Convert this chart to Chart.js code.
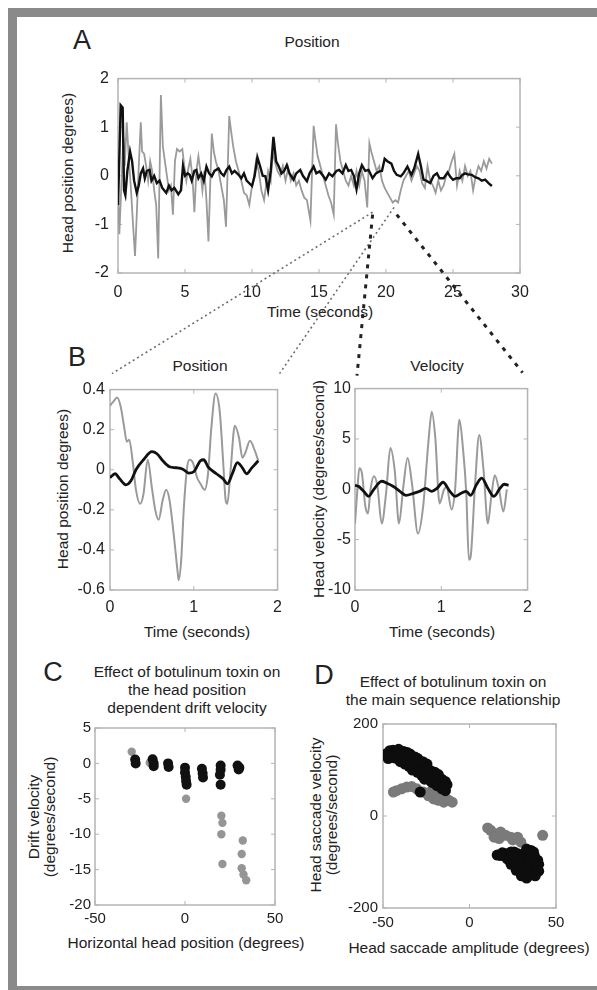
<!DOCTYPE html>
<html><head><meta charset="utf-8">
<script src="https://cdn.jsdelivr.net/npm/chart.js@4"></script>
<style>
html,body{margin:0;padding:0;background:#fff;width:597px;height:990px;overflow:hidden;font-family:"Liberation Sans",Arial,sans-serif;color:#222}
canvas{position:absolute}
.frame{position:absolute;left:8px;top:8px;width:589px;height:982px;border-top:9px solid #8a8a8a;border-left:9px solid #8a8a8a;border-bottom:4px solid #8a8a8a;box-sizing:border-box}
.t{position:absolute;font-size:15.5px;white-space:nowrap;transform:translate(-50%,-50%);text-align:center;line-height:18px}
.r{position:absolute;font-size:15.5px;white-space:nowrap;transform:translate(-50%,-50%) rotate(-90deg);text-align:center;line-height:15.5px}
.L{position:absolute;font-size:27px;transform:translate(-50%,-50%);line-height:1}
</style>
</head><body>
<div class="frame"></div>
<div class="L" style="left:82px;top:40px">A</div>
<div class="L" style="left:77px;top:357px">B</div>
<div class="L" style="left:53px;top:672px">C</div>
<div class="L" style="left:324px;top:675px">D</div>
<div class="t" style="left:312px;top:42px">Position</div>
<div class="t" style="left:200px;top:366px">Position</div>
<div class="t" style="left:437px;top:366px">Velocity</div>
<div class="t" style="left:187px;top:690px">Effect of botulinum toxin on<br>the head position<br>dependent drift velocity</div>
<div class="t" style="left:453px;top:691px">Effect of botulinum toxin on<br>the main sequence relationship</div>
<!-- axis titles -->
<div class="t" style="left:320px;top:312px">Time (seconds)</div>
<div class="r" style="left:68px;top:173px">Head position degrees)</div>
<div class="t" style="left:197px;top:632px">Time (seconds)</div>
<div class="r" style="left:63px;top:489px">Head position degrees)</div>
<div class="t" style="left:442px;top:632px">Time (seconds)</div>
<div class="r" style="left:319px;top:489px">Head velocity (degrees/second)</div>
<div class="t" style="left:186px;top:943px">Horizontal head position (degrees)</div>
<div class="r" style="left:41px;top:817px">Drift velocity<br>(degrees/second)</div>
<div class="t" style="left:469px;top:948px">Head saccade amplitude (degrees)</div>
<div class="r" style="left:323px;top:815px">Head saccade velocity<br>(degrees/second)</div>
<script>
// ---------- DATA ----------
const aXTicks=[0,5,10,15,20,25,30];
const aYTicks=[-2,-1,0,1,2];
const aGray=[[0,-0.3],[0.1,-1.2],[0.25,-0.2],[0.4,0.8],[0.5,0.2],[0.65,1.1],[0.8,0.4],[0.95,-0.2],[1.1,-0.9],[1.27,-1.65],[1.4,-0.8],[1.55,0.2],[1.7,1.1],[1.8,0.5],[1.95,0.45],[2.1,0.2],[2.25,-0.1],[2.4,0.3],[2.55,0.1],[2.7,-0.3],[2.85,-0.6],[3.0,-1.7],[3.2,1.66],[3.35,0.6],[3.5,0.3],[3.65,0.0],[3.8,-0.3],[3.95,-0.2],[4.1,-0.8],[4.25,0.3],[4.4,0.55],[4.6,0.5],[4.8,0.55],[4.95,0.2],[5.1,-0.1],[5.25,0.15],[5.4,0.35],[5.55,0.0],[5.7,-0.75],[5.85,0.1],[6.0,0.4],[6.15,0.1],[6.3,-0.3],[6.45,0.1],[6.6,-0.5],[6.75,-1.35],[7.0,0.87],[7.15,0.5],[7.3,0.3],[7.5,0.1],[7.7,-0.2],[7.9,-0.5],[8.06,-1.05],[8.3,1.23],[8.45,0.9],[8.6,0.6],[8.8,0.3],[9.0,0.1],[9.2,-0.1],[9.4,-0.35],[9.6,-0.4],[9.8,-0.6],[9.95,-0.3],[10.1,-0.1],[10.3,0.3],[10.5,0.1],[10.7,-0.3],[10.9,-0.5],[11.05,-0.2],[11.2,0.1],[11.4,-0.1],[11.55,0.5],[11.7,0.3],[11.9,0.1],[12.1,0.0],[12.3,0.2],[12.5,-0.1],[12.7,0.15],[12.9,-0.1],[13.1,0.05],[13.3,-0.2],[13.5,-0.1],[13.7,-0.3],[13.9,-0.45],[14.1,-0.5],[14.36,-0.92],[14.6,1.03],[14.75,0.7],[14.9,0.4],[15.1,0.2],[15.3,0.0],[15.5,-0.2],[15.7,-0.4],[15.9,-0.55],[16.1,-0.8],[16.27,1.06],[16.4,0.7],[16.6,0.3],[16.8,0.1],[17.0,-0.1],[17.2,-0.2],[17.4,0.0],[17.6,-0.2],[17.8,0.1],[18.0,-0.2],[18.2,0.1],[18.4,-0.1],[18.6,-0.65],[18.76,0.67],[18.9,0.5],[19.1,0.3],[19.3,0.1],[19.5,0.2],[19.7,-0.1],[19.9,-0.25],[20.1,-0.35],[20.3,-0.45],[20.5,-0.55],[20.7,-0.5],[20.9,-0.55],[21.1,-0.3],[21.3,-0.1],[21.5,0.0],[21.7,0.1],[21.9,-0.1],[22.1,0.05],[22.3,0.2],[22.5,0.1],[22.7,-0.15],[22.9,-0.25],[23.1,0.2],[23.3,-0.1],[23.5,-0.2],[23.7,-0.35],[23.9,-0.1],[24.1,-0.3],[24.3,-0.2],[24.5,0.0],[24.7,0.1],[24.9,0.3],[25.1,0.45],[25.3,-0.2],[25.5,0.1],[25.7,-0.1],[25.9,0.2],[26.1,0.0],[26.3,0.1],[26.5,-0.3],[26.7,0.0],[26.9,0.2],[27.1,0.1],[27.3,0.3],[27.5,0.15],[27.7,0.35],[27.9,0.25]];
const aBlack=[[0,-0.6],[0.1,0.4],[0.2,1.45],[0.35,1.4],[0.45,-0.3],[0.55,-0.4],[0.7,0.1],[0.9,0.5],[1.05,0.3],[1.2,-0.1],[1.4,-0.35],[1.55,-0.2],[1.7,0.05],[1.87,0.15],[2.0,-0.05],[2.15,0.1],[2.36,0.12],[2.5,-0.1],[2.7,0.0],[2.9,-0.15],[3.1,-0.1],[3.3,-0.25],[3.6,-0.35],[3.8,-0.2],[4.0,-0.3],[4.2,-0.25],[4.5,-0.38],[4.7,-0.3],[4.85,0.2],[5.0,0.0],[5.2,0.05],[5.35,0.02],[5.5,-0.1],[5.7,0.1],[5.85,0.12],[6.0,-0.05],[6.2,0.05],[6.4,-0.1],[6.6,0.19],[6.8,0.05],[7.0,-0.01],[7.2,0.1],[7.5,0.15],[7.7,0.05],[7.9,0.0],[8.1,0.12],[8.3,0.19],[8.5,0.05],[8.7,0.1],[9.0,0.02],[9.2,-0.05],[9.4,0.05],[9.6,-0.1],[10.0,-0.21],[10.2,0.0],[10.4,0.38],[10.6,0.2],[10.8,0.0],[11.0,-0.01],[11.2,-0.3],[11.4,0.1],[11.6,0.8],[11.8,0.3],[12.0,0.19],[12.2,0.05],[12.4,0.1],[12.6,0.22],[12.8,0.05],[13.1,-0.08],[13.3,0.05],[13.6,0.12],[13.8,0.0],[14.1,-0.11],[14.3,0.05],[14.6,0.19],[14.8,0.05],[15.05,0.09],[15.3,0.0],[15.5,-0.08],[15.75,0.05],[16.0,-0.01],[16.3,0.1],[16.5,0.12],[16.75,0.05],[17.0,0.22],[17.2,0.1],[17.4,0.12],[17.6,0.0],[17.8,-0.28],[18.0,0.05],[18.2,0.22],[18.45,0.1],[18.7,0.12],[19.0,-0.05],[19.25,0.05],[19.5,0.09],[19.7,0.1],[19.9,0.35],[20.1,0.3],[20.4,0.25],[20.6,0.1],[20.8,0.02],[21.1,-0.01],[21.3,0.05],[21.6,0.19],[21.75,0.1],[21.9,0.02],[22.1,0.15],[22.4,0.45],[22.6,0.2],[22.8,-0.08],[23.0,-0.1],[23.3,-0.15],[23.55,0.0],[23.8,0.05],[24.0,-0.05],[24.3,-0.05],[24.6,0.07],[24.8,-0.02],[25.0,-0.08],[25.25,-0.05],[25.5,-0.05],[25.7,0.02],[25.9,0.05],[26.1,0.03],[26.4,0.02],[26.65,-0.03],[26.9,-0.05],[27.15,-0.1],[27.4,-0.08],[27.65,-0.15],[27.9,-0.21]];
// zoom window markers on panel A (time, position) -> start of connector lines
const zoomMarks=[[19.0,-0.75],[20.6,-0.65],[19.0,-0.8],[20.8,-0.8]];

const bXTicks=[0,1,2];
const bPosTicks=[-0.6,-0.4,-0.2,0,0.2,0.4];
const bPosTickLabels=['-0.6','-0.4','-0.2','0','0.2','0.4'];
const bPosGray=[[0,0.32],[0.04,0.34],[0.085,0.36],[0.13,0.31],[0.17,0.21],[0.2,0.14],[0.23,0.15],[0.27,0.045],[0.31,-0.1],[0.36,-0.17],[0.4,-0.12],[0.45,0.05],[0.5,-0.09],[0.54,-0.2],[0.58,-0.25],[0.63,-0.15],[0.67,-0.1],[0.71,-0.15],[0.76,-0.32],[0.81,-0.52],[0.82,-0.55],[0.85,-0.45],[0.88,-0.2],[0.92,0.01],[0.95,0.05],[0.99,0.035],[1.04,-0.04],[1.08,-0.07],[1.13,-0.1],[1.17,-0.02],[1.21,0.21],[1.26,0.38],[1.31,0.29],[1.35,0.045],[1.38,-0.15],[1.40,-0.17],[1.44,0.0],[1.49,0.22],[1.54,0.16],[1.58,0.06],[1.62,0.09],[1.67,0.145],[1.73,0.094],[1.77,0.045]];
const bPosBlack=[[0,-0.04],[0.06,-0.02],[0.115,-0.045],[0.19,-0.075],[0.25,-0.055],[0.31,0],[0.4,0.05],[0.5,0.09],[0.56,0.08],[0.63,0.045],[0.71,0.015],[0.79,0.01],[0.87,0.003],[0.94,-0.017],[1.0,-0.01],[1.08,0.045],[1.12,0.05],[1.17,0.015],[1.27,-0.02],[1.35,-0.045],[1.4,-0.07],[1.46,-0.02],[1.52,0.036],[1.58,0.01],[1.63,-0.02],[1.69,0.008],[1.77,0.045]];
const bVelTicks=[-10,-5,0,5,10];
const bVelGray=[[0,-3.4],[0.03,0.26],[0.05,2.1],[0.08,1.6],[0.12,-1.7],[0.15,-2.4],[0.18,0],[0.22,1.3],[0.26,0.3],[0.31,-3.4],[0.36,-0.4],[0.41,4.1],[0.46,1.9],[0.51,-3.4],[0.56,0.26],[0.61,3.1],[0.66,0.6],[0.73,-4.4],[0.79,-1.7],[0.85,4.6],[0.89,7.7],[0.93,5.2],[0.98,-1.4],[1.03,-0.07],[1.06,0.26],[1.12,-2.0],[1.16,0],[1.21,6.9],[1.25,4.2],[1.29,-0.4],[1.32,-7.0],[1.34,-6.7],[1.39,0.26],[1.44,5.4],[1.49,1.9],[1.54,-3.4],[1.58,-0.7],[1.62,1.4],[1.67,-0.07],[1.72,-2.2],[1.76,0]];
const bVelBlack=[[0,0.4],[0.04,0.3],[0.1,-0.2],[0.16,-0.7],[0.21,-0.1],[0.31,0.8],[0.37,0.6],[0.44,0.3],[0.52,-0.2],[0.59,-0.6],[0.68,-0.4],[0.75,-0.2],[0.82,0.1],[0.89,-0.2],[0.95,0.1],[1.02,0.7],[1.1,-0.2],[1.16,-0.7],[1.23,-0.4],[1.29,-0.2],[1.34,-0.6],[1.41,0.5],[1.47,1.1],[1.54,0.1],[1.61,-0.7],[1.68,0.1],[1.73,0.5],[1.78,0.4]];

const cXTicks=[-50,0,50];
const cYTicks=[-20,-15,-10,-5,0,5];
const cGray=[[-29.6,1.65],[-19.6,0.1],[0.6,-5.0],[20.2,-7.4],[20.8,-8.4],[20.2,-10.0],[20.8,-14.2],[32.1,-10.9],[31.5,-12.8],[31.5,-14.8],[32.5,-15.7],[34,-16.5]];
const cBlack=[[-27.7,0.55],[-27.4,0],[-18,0.57],[-17.4,0],[-17.4,-0.4],[-9.4,0],[-9.1,-0.5],[0,-0.6],[0,-1.3],[0.4,-1.9],[0.6,-2.5],[0.9,-3.0],[9.4,-0.75],[9.8,-1.4],[10,-2.0],[19.8,-0.3],[19.8,-0.9],[19.4,-1.6],[19.8,-3.0],[29.2,-0.3],[29.8,-0.85],[30.2,-0.6]];

const dXTicks=[-50,0,50];
const dYTicks=[-200,0,200];
const dGray=[[-44,52],[-42.2,55],[-39.3,59],[-36.3,63],[-33.4,64],[-30.5,59],[-26.6,52],[-23.7,44],[-20.7,37],[-17.9,34],[-14.9,30],[-12,34],[-10,30],[-22.7,52],[-18.8,44],[-15,38],
 [10.5,-26],[12.2,-31],[15.1,-39],[18,-35],[20.9,-42],[23.9,-46],[27.8,-46],[29.7,-57],[17.1,-49],[14.2,-46],[25,-52],[42.3,-42]];
const dBlack=[[-48.1,135],[-46.1,142],[-44.2,143],[-42.2,138],[-45.1,128],[-40.3,135],[-38.3,128],[-36.3,124],[-34.4,120],[-37.3,113],[-32.4,113],[-30.5,106],[-28.5,109],[-26.6,99],[-27.5,88],[-24.6,91],[-22.7,88],[-20.7,81],[-18.8,84],[-16.9,73],[-14.9,66],[-15.9,59],[-13.9,55],[-31.5,128],[-34.4,135],[-29.5,120],[-24.6,113],[-22.7,99],[-18.8,66],[-21.7,73],[-28.5,52],
 [-47,125],[-43,126],[-41,145],[-38,140],[-36,138],[-33,128],[-30,125],[-27,118],[-25,105],[-20,95],[-18,90],[-16,80],[-13,68],[-14,75],[-26,80],[-23,78],[-30,95],[-33,100],[-35,108],[-40,118],
 [18,-86],[20.9,-82],[23.9,-89],[25.8,-78],[27.8,-93],[29.7,-111],[31.7,-125],[34.6,-129],[36.5,-125],[38.4,-111],[39.4,-96],[37.5,-86],[35.5,-75],[32.6,-78],[31.7,-96],[34.6,-104],[28.7,-104],[29.7,-89],[36.5,-111],[39.4,-118],[21.8,-93],[32.6,-114],
 [16,-85],[19,-80],[24,-78],[28,-82],[33,-72],[37,-78],[40,-105],[40,-120],[33,-135],[30,-130],[27,-118],[24,-105],[26,-95],[35,-95],[38,-130]];

// ---------- helpers ----------
const TXT='#222';
const boxPlugin={id:'box',beforeDatasetsDraw(ch){
  const a=ch.chartArea,ctx=ch.ctx;ctx.save();
  ctx.strokeStyle='#b4b4b4';ctx.lineWidth=1.5;
  ctx.strokeRect(a.left,a.top,a.right-a.left,a.bottom-a.top);
  ctx.lineWidth=1;ctx.beginPath();
  ch.scales.x.ticks.forEach(t=>{const p=ch.scales.x.getPixelForValue(t.value);ctx.moveTo(p,a.bottom);ctx.lineTo(p,a.bottom-4);ctx.moveTo(p,a.top);ctx.lineTo(p,a.top+4);});
  ch.scales.y.ticks.forEach(t=>{const p=ch.scales.y.getPixelForValue(t.value);ctx.moveTo(a.left,p);ctx.lineTo(a.left+4,p);ctx.moveTo(a.right,p);ctx.lineTo(a.right-4,p);});
  ctx.stroke();ctx.restore();}};
const pts=a=>a.map(p=>({x:p[0],y:p[1]}));
function panel(o){
  const c=document.createElement('canvas');
  c.width=o.w;c.height=o.h;c.style.left=o.left+'px';c.style.top=o.top+'px';c.style.width=o.w+'px';c.style.height=o.h+'px';
  document.body.appendChild(c);
  const axis=(k)=>({type:'linear',min:o[k].min,max:o[k].max,
    afterBuildTicks:s=>{s.ticks=o[k].ticks.map(v=>({value:v}));},
    afterFit:s=>{if(k==='x')s.height=o.xh;else s.width=o.yw;},
    grid:{display:false,drawTicks:false},border:{display:false},
    ticks:{padding:o[k].pad,color:TXT,font:{family:'Liberation Sans',size:o.tickSize||16},autoSkip:false,maxRotation:0,
      callback:(v,i)=>o[k].labels?o[k].labels[i]:String(v)},
    title:{display:false}});
  return new Chart(c,{type:'scatter',data:{datasets:o.datasets},
    options:{responsive:false,animation:false,devicePixelRatio:1,
      layout:{padding:{top:o.pt,right:o.pr,left:0,bottom:0}},
      plugins:{legend:{display:false},tooltip:{enabled:false}},
      scales:{x:axis('x'),y:axis('y')}},plugins:[boxPlugin]});
}
const line=(d,col,w,smooth)=>({data:pts(d),showLine:true,borderColor:col,borderWidth:w,pointRadius:0,fill:false,tension:smooth?0.4:0,cubicInterpolationMode:smooth?'monotone':'default'});
const dots=(d,col,r)=>({data:pts(d),showLine:false,backgroundColor:col,borderColor:col,borderWidth:0,pointRadius:r});

// Panel A
const PA={left:60,top:60,w:480,h:260};
const chA=panel({...PA,pt:12,pr:20,yw:58,xh:47,
  x:{min:0,max:30,ticks:aXTicks,pad:10},
  y:{min:-2,max:2,ticks:aYTicks,pad:9},
  datasets:[line(aBlack,'#111',2.4,false),line(aGray,'#9a9a9a',1.8,false)]});
// Panel B position
const PBP={left:55,top:375,w:235,h:265};
const chBP=panel({...PBP,pt:13,pr:7,yw:55,xh:50,
  x:{min:0,max:2,ticks:bXTicks,pad:8},
  y:{min:-0.6,max:0.4,ticks:bPosTicks,labels:bPosTickLabels,pad:5},
  datasets:[line(bPosBlack,'#111',2.8,true),line(bPosGray,'#9a9a9a',2,true)]});
// Panel B velocity
const PBV={left:310,top:375,w:230,h:265};
const chBV=panel({...PBV,pt:13,pr:12,yw:45,xh:50,
  x:{min:0,max:2,ticks:bXTicks,pad:8},
  y:{min:-10,max:10,ticks:bVelTicks,pad:4},
  datasets:[line(bVelBlack,'#111',2.8,true),line(bVelGray,'#9a9a9a',2,true)]});
// Panel C
const PC={left:25,top:715,w:290,h:236};
const chC=panel({...PC,pt:13,pr:40,yw:70,xh:46,tickSize:15,
  x:{min:-50,max:50,ticks:cXTicks,pad:5},
  y:{min:-20,max:5,ticks:cYTicks,pad:4},
  datasets:[dots(cBlack,'#111',5),dots(cGray,'#959595',4.2)]});
// Panel D
const PD={left:307,top:710,w:290,h:246};
const chD=panel({...PD,pt:13,pr:41,yw:76,xh:48,tickSize:15,
  x:{min:-50,max:50,ticks:dXTicks,pad:6},
  y:{min:-200,max:200,ticks:dYTicks,pad:5},
  datasets:[dots(dBlack,'#0d0d0d',5.5),dots(dGray,'#7a7a7a',5.5)]});

// ---------- connector lines (zoom indication) ----------
const ov=document.createElement('canvas');ov.width=597;ov.height=990;ov.style.left='0px';ov.style.top='0px';ov.style.pointerEvents='none';
document.body.appendChild(ov);
const g=ov.getContext('2d');
function pA(m){return [PA.left+chA.scales.x.getPixelForValue(m[0]),PA.top+chA.scales.y.getPixelForValue(m[1])];}
const bpA=chBP.chartArea,bvA=chBV.chartArea;
const ends=[[PBP.left+bpA.left+2,PBP.top+bpA.top-16],[PBP.left+bpA.right+2,PBP.top+bpA.top-16],[PBV.left+bvA.left+2,PBV.top+bvA.top-13],[PBV.left+bvA.right-5,PBV.top+bvA.top-16]];
zoomMarks.forEach((m,i)=>{
  const s=pA(m),e=ends[i];
  g.save();g.beginPath();
  if(i<2){g.strokeStyle='#6e6e6e';g.lineWidth=1.6;g.setLineDash([2,3]);}
  else{g.strokeStyle='#222';g.lineWidth=3;g.setLineDash([4,6]);}
  g.moveTo(s[0],s[1]);g.lineTo(e[0],e[1]);g.stroke();g.restore();
});
</script>
</body></html>
